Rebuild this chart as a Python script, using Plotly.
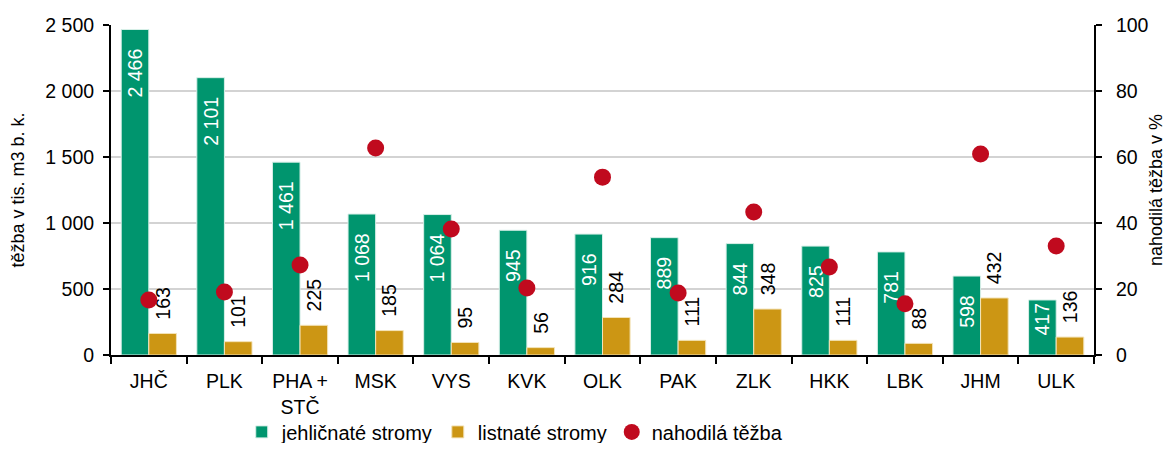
import plotly.graph_objects as go

regions = ["JHČ", "PLK", "PHA +<br>STČ", "MSK", "VYS", "KVK", "OLK", "PAK", "ZLK", "HKK", "LBK", "JHM", "ULK"]
conifer = [2466, 2101, 1461, 1068, 1064, 945, 916, 889, 844, 825, 781, 598, 417]
broadleaf = [163, 101, 225, 185, 95, 56, 284, 111, 348, 111, 88, 432, 136]
random_pct = [16.7, 19.1, 27.3, 62.7, 38.2, 20.3, 53.9, 18.8, 43.3, 26.7, 15.5, 60.9, 33.0]


def fmt(v):
    return f"{v:,}".replace(",", " ")


NB = "\u00a0"
GREEN = "#00956E"
GOLD = "#CC9614"
RED = "#C00A1E"
FONT = "Liberation Sans, Arial, sans-serif"

conifer_text = [fmt(v) + (NB * 3 if v >= 500 else "") for v in conifer]
broadleaf_text = [NB * 2 + fmt(v) for v in broadleaf]

fig = go.Figure()
fig.add_trace(go.Bar(
    x=regions, y=conifer, name="jehličnaté stromy",
    marker=dict(color=GREEN, line=dict(color="#D8EFE8", width=1)),
    text=conifer_text, textposition="inside", insidetextanchor="end",
    textangle=-90, textfont=dict(color="white", size=19.5, family=FONT),
    constraintext="none",
))
fig.add_trace(go.Bar(
    x=regions, y=broadleaf, name="listnaté stromy",
    marker=dict(color=GOLD, line=dict(color="#F3E3B8", width=1)),
    text=broadleaf_text, textposition="outside",
    textangle=-90, textfont=dict(color="black", size=19.5, family=FONT),
    constraintext="none", cliponaxis=False,
))
fig.add_trace(go.Scatter(
    x=regions, y=random_pct, name="nahodilá těžba", mode="markers",
    marker=dict(color=RED, size=17), yaxis="y2", cliponaxis=False,
))

fig.update_layout(
    width=1158, height=435,
    margin=dict(l=103, r=72, t=17, b=88, autoexpand=False),
    paper_bgcolor="white", plot_bgcolor="white",
    font=dict(family=FONT, size=19.5, color="black"),
    barmode="group", bargap=0.27, bargroupgap=0,
    separators=", ",
    showlegend=True,
    legend=dict(orientation="h", x=0.133, xanchor="left", y=-0.233, yanchor="middle",
                font=dict(size=20), itemwidth=30, tracegroupgap=0,
                bgcolor="rgba(0,0,0,0)"),
    xaxis=dict(type="category", range=[-0.5, len(regions) - 0.5], autorange=False,
               showline=True, linecolor="black", linewidth=2,
               ticks="outside", tickson="boundaries", ticklen=7, tickwidth=2, tickcolor="black",
               tickfont=dict(size=19.5), ticklabelstandoff=8, automargin=False),
    yaxis=dict(range=[0, 2500], dtick=500, tickformat=",d", showline=True,
               linecolor="black", linewidth=2, ticks="outside", ticklen=6, tickwidth=2,
               tickcolor="black", gridcolor="#D3D3D3", gridwidth=1.5, zeroline=False,
               ticklabelstandoff=5,
               title=dict(text="těžba v tis. m3 b. k.", font=dict(size=18), standoff=16),
               tickfont=dict(size=19.5), automargin=False),
    yaxis2=dict(range=[0, 100], dtick=20, overlaying="y", side="right", showgrid=False,
                showline=True, linecolor="black", linewidth=2, ticks="outside", ticklen=6,
                tickwidth=2, tickcolor="black", zeroline=False, ticklabelstandoff=10,
                title=dict(text="nahodilá těžba v %", font=dict(size=18), standoff=5),
                tickfont=dict(size=19.5), automargin=False),
)

fig.write_html("out.html")
